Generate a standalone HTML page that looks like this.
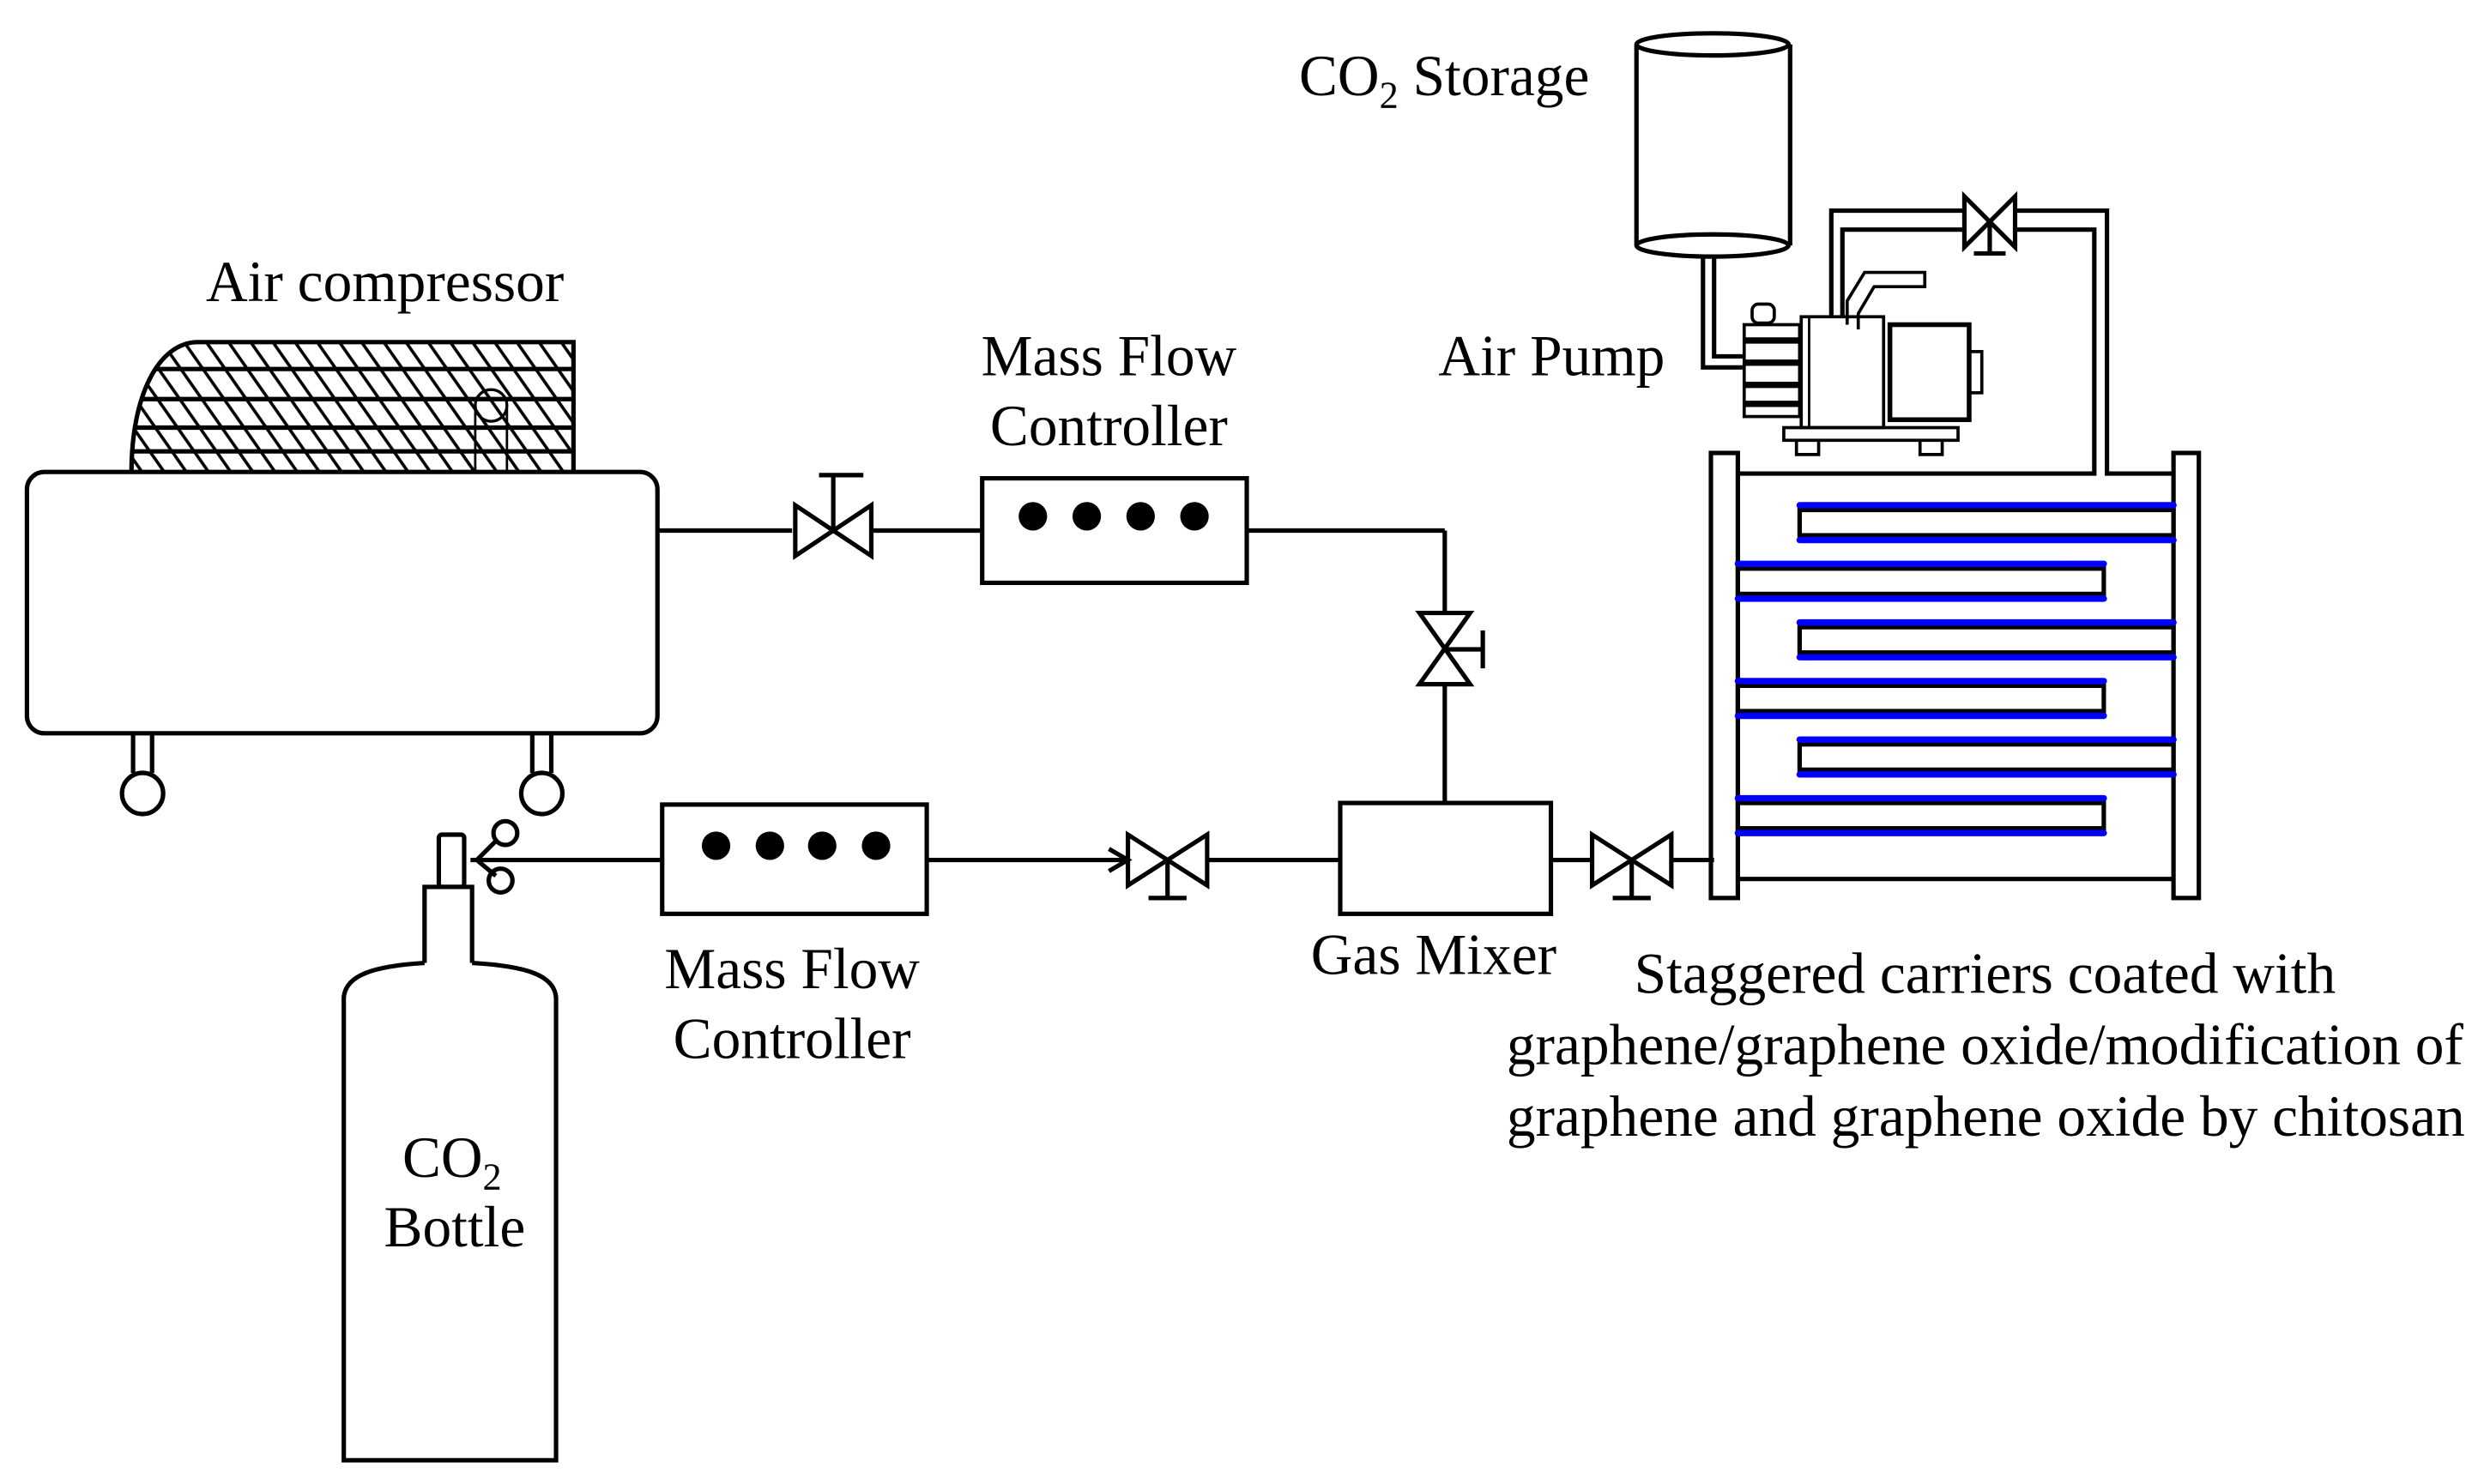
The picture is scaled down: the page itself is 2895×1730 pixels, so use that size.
<!DOCTYPE html>
<html><head><meta charset="utf-8"><style>
html,body{margin:0;padding:0;background:#fff;}
svg{display:block;}
text{font-family:"Liberation Serif",serif;font-size:36.5px;fill:#000;}
</style></head><body>
<svg width="2895" height="1730" viewBox="0 0 1568 937" preserveAspectRatio="none" xmlns="http://www.w3.org/2000/svg">
<defs>
<pattern id="hatch" width="14" height="400" patternUnits="userSpaceOnUse" patternTransform="skewX(35)">
<line x1="7" y1="0" x2="7" y2="400" stroke="#000" stroke-width="2.4"/>
</pattern>
<clipPath id="hood"><path d="M83,298 C83,250 100,216 125,216 L362,216 L362,298 Z"/></clipPath>
</defs>
<g fill="none" stroke="#000" stroke-width="2.8">
<g clip-path="url(#hood)">
<rect x="60" y="200" width="320" height="110" fill="url(#hatch)" stroke="none"/>
<line x1="60" y1="233" x2="380" y2="233"/>
<line x1="60" y1="252" x2="380" y2="252"/>
<line x1="60" y1="270" x2="380" y2="270"/>
<line x1="60" y1="285" x2="380" y2="285"/>
</g>
<path d="M83,298 C83,250 100,216 125,216 L362,216 L362,298"/>
<circle cx="310" cy="256" r="10" stroke-width="1.8"/>
<line x1="300" y1="258" x2="300" y2="298" stroke-width="1.5"/>
<line x1="320" y1="258" x2="320" y2="298" stroke-width="1.5"/>
<rect x="17" y="298" width="398" height="165" rx="11"/>
<line x1="84" y1="463" x2="84" y2="488"/><line x1="96" y1="463" x2="96" y2="488"/>
<circle cx="90" cy="501" r="13"/>
<line x1="336" y1="463" x2="336" y2="488"/><line x1="348" y1="463" x2="348" y2="488"/>
<circle cx="342" cy="501" r="13"/>
<line x1="415" y1="335" x2="500" y2="335"/>
<path d="M502,319 L550,351 L550,319 L502,351 Z"/>
<line x1="526" y1="335" x2="526" y2="300"/><line x1="517" y1="300" x2="545" y2="300"/>
<line x1="550" y1="335" x2="620" y2="335"/>
<rect x="620" y="302" width="167" height="66"/>
<line x1="787" y1="335" x2="912" y2="335"/>
<line x1="912" y1="335" x2="912" y2="387"/>
<path d="M896,387 L928,432 L896,432 L928,387 Z"/>
<line x1="912" y1="410" x2="936" y2="410"/><line x1="936" y1="398" x2="936" y2="422"/>
<line x1="912" y1="432" x2="912" y2="507"/>
<rect x="846" y="507" width="133" height="70"/>
<line x1="979" y1="543" x2="1005" y2="543"/>
<path d="M1005,527 L1055,559 L1055,527 L1005,559 Z"/>
<line x1="1030" y1="543" x2="1030" y2="567"/><line x1="1018" y1="567" x2="1042" y2="567"/>
<line x1="1055" y1="543" x2="1082" y2="543"/>
<line x1="297" y1="543" x2="418" y2="543"/>
<rect x="418" y="508" width="167" height="69"/>
<line x1="585" y1="543" x2="712" y2="543"/>
<path d="M712,527 L762,559 L762,527 L712,559 Z"/>
<path d="M700,536 L712,543 L700,550"/>
<line x1="737" y1="543" x2="737" y2="567"/><line x1="725" y1="567" x2="749" y2="567"/>
<line x1="762" y1="543" x2="846" y2="543"/>
<rect x="277" y="527" width="16" height="33" rx="2"/>
<path d="M268,608 L268,560 L298,560 L298,608"/>
<path d="M268,608 C235,610 218,616 217,630 L217,922 L351,922 L351,630 C350,616 333,610 298,608"/>
<line x1="301" y1="543" x2="313" y2="531"/><line x1="301" y1="543" x2="313" y2="553"/>
<circle cx="319" cy="526" r="7.5"/><circle cx="316" cy="556" r="7.5"/>
<line x1="1033" y1="28" x2="1033" y2="155"/><line x1="1130" y1="28" x2="1130" y2="155"/>
<ellipse cx="1081" cy="28" rx="48" ry="7"/>
<ellipse cx="1081" cy="155" rx="48" ry="7"/>
<path d="M1075,162 L1075,232 L1100,232"/><path d="M1082,162 L1082,225 L1100,225"/>
<rect x="1101" y="205" width="35" height="58" stroke-width="2"/>
<line x1="1101" y1="215" x2="1136" y2="215" stroke-width="4"/>
<line x1="1101" y1="229" x2="1136" y2="229" stroke-width="4"/>
<line x1="1101" y1="243" x2="1136" y2="243" stroke-width="4"/>
<line x1="1101" y1="255" x2="1136" y2="255" stroke-width="4"/>
<rect x="1106" y="192" width="14" height="12" rx="4" stroke-width="2"/>
<rect x="1137" y="200" width="52" height="70" stroke-width="2"/>
<line x1="1142" y1="200" x2="1142" y2="270" stroke-width="1.5"/>
<rect x="1193" y="205" width="50" height="60" stroke-width="3"/>
<rect x="1243" y="222" width="8" height="26" stroke-width="2"/>
<rect x="1126" y="270" width="110" height="8" stroke-width="2"/>
<path d="M1134,278 L1134,287 L1148,287 L1148,278 M1212,278 L1212,287 L1226,287 L1226,278" stroke-width="2"/>
<path d="M1166,205 L1166,190 L1177,172 L1215,172 L1215,181 L1183,181 L1173,198 L1173,208" stroke-width="2"/>
<path d="M1156,200 L1156,133 L1240,133"/>
<path d="M1163,200 L1163,145 L1240,145"/>
<path d="M1240,124 L1272,156 L1272,124 L1240,156 Z"/>
<line x1="1256" y1="140" x2="1256" y2="160"/><line x1="1246" y1="160" x2="1266" y2="160"/>
<path d="M1272,133 L1330,133 L1330,299 L1372,299"/>
<path d="M1272,145 L1322,145 L1322,299 L1097,299"/>
<rect x="1080" y="286" width="17" height="281"/>
<rect x="1372" y="286" width="16" height="281"/>
<line x1="1097" y1="555" x2="1372" y2="555"/>
<rect x="1136" y="322" width="236" height="16"/>
<rect x="1097" y="359" width="231" height="16"/>
<rect x="1136" y="396" width="236" height="16"/>
<rect x="1097" y="433" width="231" height="16"/>
<rect x="1136" y="470" width="236" height="16"/>
<rect x="1097" y="507" width="231" height="16"/>
</g>
<g stroke="#0000ff" stroke-width="4" stroke-linecap="round">
<line x1="1136" y1="319" x2="1372" y2="319"/><line x1="1136" y1="341" x2="1372" y2="341"/>
<line x1="1097" y1="356" x2="1328" y2="356"/><line x1="1097" y1="378" x2="1328" y2="378"/>
<line x1="1136" y1="393" x2="1372" y2="393"/><line x1="1136" y1="415" x2="1372" y2="415"/>
<line x1="1097" y1="430" x2="1328" y2="430"/><line x1="1097" y1="452" x2="1328" y2="452"/>
<line x1="1136" y1="467" x2="1372" y2="467"/><line x1="1136" y1="489" x2="1372" y2="489"/>
<line x1="1097" y1="504" x2="1328" y2="504"/><line x1="1097" y1="526" x2="1328" y2="526"/>
</g>
<g fill="#000">
<circle cx="652" cy="326" r="9"/><circle cx="686" cy="326" r="9"/><circle cx="720" cy="326" r="9"/><circle cx="754" cy="326" r="9"/>
<circle cx="452" cy="534" r="9"/><circle cx="486" cy="534" r="9"/><circle cx="519" cy="534" r="9"/><circle cx="553" cy="534" r="9"/>
</g>
<text x="243" y="190" text-anchor="middle">Air compressor</text>
<text x="700" y="237" text-anchor="middle">Mass Flow</text>
<text x="700" y="281" text-anchor="middle">Controller</text>
<text x="820" y="60">CO<tspan font-size="24" dy="8">2</tspan><tspan dy="-8"> Storage</tspan></text>
<text x="908" y="237">Air Pump</text>
<text x="905" y="615" text-anchor="middle">Gas Mixer</text>
<text x="500" y="624" text-anchor="middle">Mass Flow</text>
<text x="500" y="668" text-anchor="middle">Controller</text>
<text x="254" y="743">CO<tspan font-size="24" dy="8">2</tspan></text>
<text x="287" y="787" text-anchor="middle">Bottle</text>
<text x="1253" y="627" text-anchor="middle">Staggered carriers coated with</text>
<text x="951" y="672">graphene/graphene oxide/modification of</text>
<text x="951" y="717">graphene and graphene oxide by chitosan</text>
</svg>
</body></html>
